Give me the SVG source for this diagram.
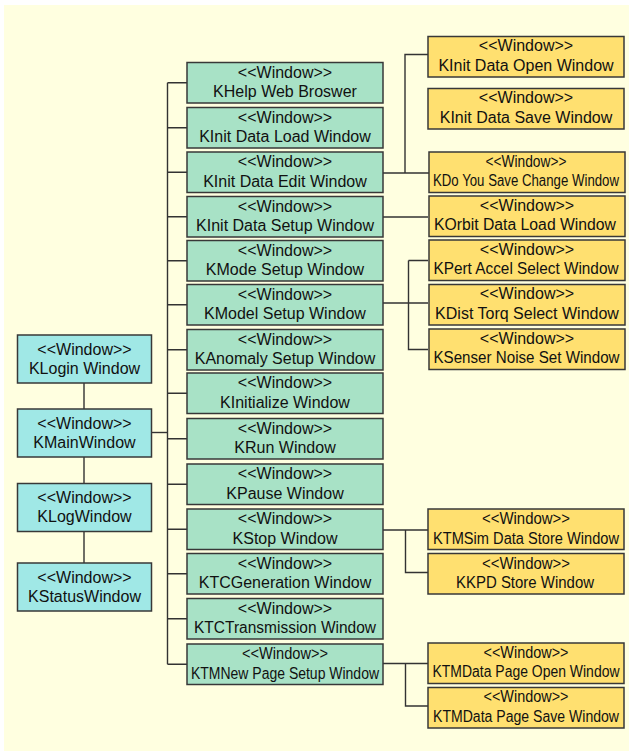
<svg xmlns="http://www.w3.org/2000/svg" width="629" height="751" viewBox="0 0 629 751">
  <style>
    .bg { fill: #FFFFE0; }
    .box { stroke: #383838; stroke-width: 1.5; }
    .main { fill: #A0E8E6; }
    .sub { fill: #A8E2C6; }
    .leaf { fill: #FFE070; }
    text { font-family: "Liberation Sans", Arial, sans-serif; font-size: 16px; fill: #111; text-anchor: middle; }
    .wire { fill: none; stroke: #333; stroke-width: 1.4; }
  </style>

  <rect class="bg" x="4" y="5" width="625" height="746"/>

  <!-- connectors -->
  <g id="connectors">
    <!-- left chain -->
    <path class="wire" d="M84 383V409M84 457V483.5M84 531.5V563"/>
    <!-- main window to trunk -->
    <path class="wire" d="M151.5 432.5H167.5"/>
    <!-- trunk and stubs to the second column -->
    <path class="wire" d="M167.5 82.75V664.25
      M167.5 82.75H187 M167.5 127.75H187 M167.5 172.25H187 M167.5 216.75H187
      M167.5 260.75H187 M167.5 304.75H187 M167.5 349.75H187 M167.5 393.25H187
      M167.5 438.75H187 M167.5 484.25H187 M167.5 529.25H187 M167.5 573.75H187
      M167.5 618.75H187 M167.5 664.25H187"/>
    <!-- edit window branch -->
    <path class="wire" d="M383 173H429 M405 173V54.5H428"/>
    <!-- setup window branch -->
    <path class="wire" d="M383 217H428"/>
    <!-- model setup branch -->
    <path class="wire" d="M383 303H428 M408.5 260.5H428 M408.5 260.5V349.5H428"/>
    <!-- stop window branch -->
    <path class="wire" d="M383 530H428 M405.5 530V572.5H428"/>
    <!-- new page setup branch -->
    <path class="wire" d="M383 663.5H428 M405.5 663.5V706H428"/>
  </g>

  <!-- first column -->
  <g id="KLoginWindow">
    <rect class="box main" x="17.5" y="335" width="134" height="48"/>
    <text x="84.5" y="354.5">&lt;&lt;Window&gt;&gt;</text>
    <text x="84.5" y="373.5">KLogin Window</text>
  </g>
  <g id="KMainWindow">
    <rect class="box main" x="17.5" y="409" width="134" height="48"/>
    <text x="84.5" y="428.5">&lt;&lt;Window&gt;&gt;</text>
    <text x="84.5" y="447.5">KMainWindow</text>
  </g>
  <g id="KLogWindow">
    <rect class="box main" x="17.5" y="483.5" width="134" height="48"/>
    <text x="84.5" y="503">&lt;&lt;Window&gt;&gt;</text>
    <text x="84.5" y="522">KLogWindow</text>
  </g>
  <g id="KStatusWindow">
    <rect class="box main" x="17.5" y="563" width="134" height="48"/>
    <text x="84.5" y="582.5">&lt;&lt;Window&gt;&gt;</text>
    <text x="84.5" y="601.5">KStatusWindow</text>
  </g>

  <!-- second column -->
  <g id="KHelpWebBroswer">
    <rect class="box sub" x="187" y="62.5" width="196" height="40.5"/>
    <text x="285" y="77.75">&lt;&lt;Window&gt;&gt;</text>
    <text x="285" y="97.25">KHelp Web Broswer</text>
  </g>
  <g id="KInitDataLoadWindow">
    <rect class="box sub" x="187" y="107.5" width="196" height="40.5"/>
    <text x="285" y="122.75">&lt;&lt;Window&gt;&gt;</text>
    <text x="285" y="142.25">KInit Data Load Window</text>
  </g>
  <g id="KInitDataEditWindow">
    <rect class="box sub" x="187" y="152" width="196" height="40.5"/>
    <text x="285" y="167.25">&lt;&lt;Window&gt;&gt;</text>
    <text x="285" y="186.75">KInit Data Edit Window</text>
  </g>
  <g id="KInitDataSetupWindow">
    <rect class="box sub" x="187" y="196.5" width="196" height="40.5"/>
    <text x="285" y="211.75">&lt;&lt;Window&gt;&gt;</text>
    <text x="285" y="231.25">KInit Data Setup Window</text>
  </g>
  <g id="KModeSetupWindow">
    <rect class="box sub" x="187" y="240.5" width="196" height="40.5"/>
    <text x="285" y="255.75">&lt;&lt;Window&gt;&gt;</text>
    <text x="285" y="275.25">KMode Setup Window</text>
  </g>
  <g id="KModelSetupWindow">
    <rect class="box sub" x="187" y="284.5" width="196" height="40.5"/>
    <text x="285" y="299.75">&lt;&lt;Window&gt;&gt;</text>
    <text x="285" y="319.25">KModel Setup Window</text>
  </g>
  <g id="KAnomalySetupWindow">
    <rect class="box sub" x="187" y="329.5" width="196" height="40.5"/>
    <text x="285" y="344.75">&lt;&lt;Window&gt;&gt;</text>
    <text x="285" y="364.25">KAnomaly Setup Window</text>
  </g>
  <g id="KInitializeWindow">
    <rect class="box sub" x="187" y="373" width="196" height="40.5"/>
    <text x="285" y="388.25">&lt;&lt;Window&gt;&gt;</text>
    <text x="285" y="407.75">KInitialize Window</text>
  </g>
  <g id="KRunWindow">
    <rect class="box sub" x="187" y="418.5" width="196" height="40.5"/>
    <text x="285" y="433.75">&lt;&lt;Window&gt;&gt;</text>
    <text x="285" y="453.25">KRun Window</text>
  </g>
  <g id="KPauseWindow">
    <rect class="box sub" x="187" y="464" width="196" height="40.5"/>
    <text x="285" y="479.25">&lt;&lt;Window&gt;&gt;</text>
    <text x="285" y="498.75">KPause Window</text>
  </g>
  <g id="KStopWindow">
    <rect class="box sub" x="187" y="509" width="196" height="40.5"/>
    <text x="285" y="524.25">&lt;&lt;Window&gt;&gt;</text>
    <text x="285" y="543.75">KStop Window</text>
  </g>
  <g id="KTCGenerationWindow">
    <rect class="box sub" x="187" y="553.5" width="196" height="40.5"/>
    <text x="285" y="568.75">&lt;&lt;Window&gt;&gt;</text>
    <text x="285" y="588.25">KTCGeneration Window</text>
  </g>
  <g id="KTCTransmissionWindow">
    <rect class="box sub" x="187" y="598.5" width="196" height="40.5"/>
    <text x="285" y="613.75">&lt;&lt;Window&gt;&gt;</text>
    <text x="285" y="633.25" textLength="182" lengthAdjust="spacingAndGlyphs">KTCTransmission Window</text>
  </g>
  <g id="KTMNewPageSetupWindow">
    <rect class="box sub" x="187" y="644" width="196" height="40.5"/>
    <text x="285" y="659.25" textLength="86" lengthAdjust="spacingAndGlyphs">&lt;&lt;Window&gt;&gt;</text>
    <text x="285" y="678.75" textLength="188" lengthAdjust="spacingAndGlyphs">KTMNew Page Setup Window</text>
  </g>

  <!-- third column -->
  <g id="KInitDataOpenWindow">
    <rect class="box leaf" x="428" y="36.5" width="196" height="40.5"/>
    <text x="526" y="51.25">&lt;&lt;Window&gt;&gt;</text>
    <text x="526" y="70.75">KInit Data Open Window</text>
  </g>
  <g id="KInitDataSaveWindow">
    <rect class="box leaf" x="428" y="88.5" width="196" height="40.5"/>
    <text x="526" y="103.25">&lt;&lt;Window&gt;&gt;</text>
    <text x="526" y="122.75">KInit Data Save Window</text>
  </g>
  <g id="KDoYouSaveChangeWindow">
    <rect class="box leaf" x="429" y="152" width="196" height="40.5"/>
    <text x="526" y="166.75" textLength="81" lengthAdjust="spacingAndGlyphs">&lt;&lt;Window&gt;&gt;</text>
    <text x="526" y="186.25" textLength="186" lengthAdjust="spacingAndGlyphs">KDo You Save Change Window</text>
  </g>
  <g id="KOrbitDataLoadWindow">
    <rect class="box leaf" x="429" y="196" width="196" height="40.5"/>
    <text x="527" y="210.75">&lt;&lt;Window&gt;&gt;</text>
    <text x="525" y="230.25" textLength="182" lengthAdjust="spacingAndGlyphs">KOrbit Data Load Window</text>
  </g>
  <g id="KPertAccelSelectWindow">
    <rect class="box leaf" x="429" y="240" width="196" height="40.5"/>
    <text x="527" y="254.75">&lt;&lt;Window&gt;&gt;</text>
    <text x="526" y="274.25" textLength="185" lengthAdjust="spacingAndGlyphs">KPert Accel Select Window</text>
  </g>
  <g id="KDistTorqSelectWindow">
    <rect class="box leaf" x="429" y="284.5" width="196" height="40.5"/>
    <text x="527" y="299.25">&lt;&lt;Window&gt;&gt;</text>
    <text x="527" y="318.75">KDist Torq Select Window</text>
  </g>
  <g id="KSenserNoiseSetWindow">
    <rect class="box leaf" x="429" y="329" width="196" height="40.5"/>
    <text x="527" y="343.75">&lt;&lt;Window&gt;&gt;</text>
    <text x="526.5" y="363.25" textLength="186" lengthAdjust="spacingAndGlyphs">KSenser Noise Set Window</text>
  </g>
  <g id="KTMSimDataStoreWindow">
    <rect class="box leaf" x="428" y="509" width="196" height="40.5"/>
    <text x="526" y="524.25" textLength="88" lengthAdjust="spacingAndGlyphs">&lt;&lt;Window&gt;&gt;</text>
    <text x="526" y="543.75" textLength="186" lengthAdjust="spacingAndGlyphs">KTMSim Data Store Window</text>
  </g>
  <g id="KKPDStoreWindow">
    <rect class="box leaf" x="428" y="553.5" width="196" height="40.5"/>
    <text x="526" y="568.75" textLength="88" lengthAdjust="spacingAndGlyphs">&lt;&lt;Window&gt;&gt;</text>
    <text x="525" y="588.25" textLength="138" lengthAdjust="spacingAndGlyphs">KKPD Store Window</text>
  </g>
  <g id="KTMDataPageOpenWindow">
    <rect class="box leaf" x="428" y="643" width="196" height="40.5"/>
    <text x="526" y="657.75" textLength="85" lengthAdjust="spacingAndGlyphs">&lt;&lt;Window&gt;&gt;</text>
    <text x="526" y="677.25" textLength="187" lengthAdjust="spacingAndGlyphs">KTMData Page Open Window</text>
  </g>
  <g id="KTMDataPageSaveWindow">
    <rect class="box leaf" x="428" y="687.5" width="196" height="40.5"/>
    <text x="526" y="702.25" textLength="85" lengthAdjust="spacingAndGlyphs">&lt;&lt;Window&gt;&gt;</text>
    <text x="526" y="721.75" textLength="186" lengthAdjust="spacingAndGlyphs">KTMData Page Save Window</text>
  </g>
</svg>
